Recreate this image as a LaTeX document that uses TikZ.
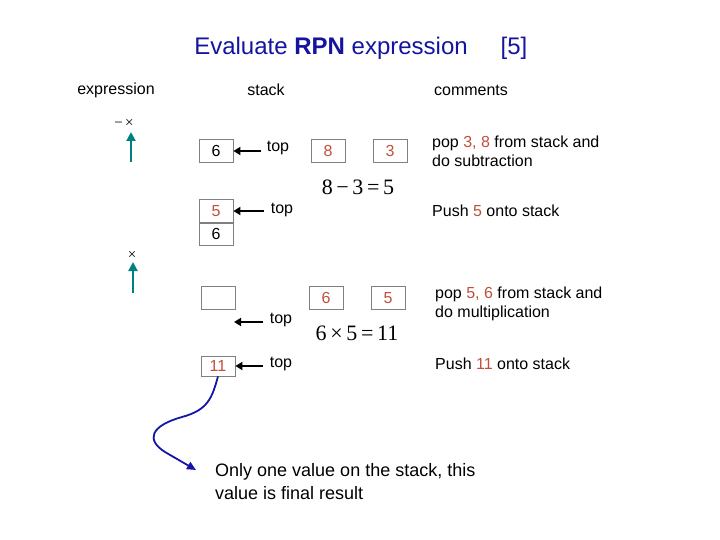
\documentclass[tikz,border=0pt]{standalone}
\usepackage{fontspec}
\setmainfont{Liberation Sans}
\newfontfamily\serifnum{Liberation Serif}
\usetikzlibrary{arrows.meta}
\definecolor{titleblue}{RGB}{20,20,160}
\definecolor{numred}{RGB}{192,80,60}
\definecolor{tealc}{RGB}{0,128,128}
\definecolor{curveblue}{RGB}{20,20,170}
\begin{document}
\begin{tikzpicture}[x=1pt,y=-1pt,
 cell/.style={draw=gray, line width=0.8pt, minimum width=34pt, minimum height=22.5pt, inner sep=0pt, font=\fontsize{16}{19}\selectfont},
 lbl/.style={inner sep=0pt, font=\fontsize{16}{19}\selectfont},
 cmt/.style={inner sep=0pt, anchor=west, align=left, font=\fontsize{16}{19}\selectfont},
 toparrow/.style={-{Triangle[length=7pt,width=8pt]}, line width=2pt},
 tealarrow/.style={-{Triangle[length=9pt,width=9pt]}, line width=2.2pt, draw=tealc, fill=tealc},
 eq/.style={inner sep=0pt, font=\serifnum\fontsize{22}{26}\selectfont}]
\useasboundingbox (0,0) rectangle (720,540);
% title
\node[inner sep=0pt, font=\fontsize{24}{28}\selectfont, text=titleblue] (title) at (331,48) {Evaluate \textbf{RPN} expression};
\node[inner sep=0pt, font=\fontsize{24}{28}\selectfont, text=titleblue] (num) at (514,48) {[5]};
% headers
\node[lbl] (hexpr) at (116,90) {expression};
\node[lbl] (hstack) at (266,90) {stack};
\node[lbl] (hcom) at (471,90) {comments};
% teal arrows
\coordinate (ta1s) at (131,162);
\coordinate (ta1e) at (131,132);
\draw[tealarrow] (ta1s) -- (ta1e);
\node[inner sep=0pt, font=\serifnum\fontsize{15}{18}\selectfont] (op1) at (124,123) {−\,×};
\coordinate (ta2s) at (133,293);
\coordinate (ta2e) at (133,262);
\draw[tealarrow] (ta2s) -- (ta2e);
\node[inner sep=0pt, font=\serifnum\fontsize{15}{18}\selectfont] (op2) at (132,255) {×};
% row 1
\node[cell] (b6a) at (216,151) {6};
\node[lbl] (top1) at (278,148) {top};
\coordinate (t1) at (261,151);
\draw[toparrow] (t1) -- (b6a.east);
\node[cell, text=numred] (b8) at (328,151) {8};
\node[cell, text=numred] (b3) at (390,151) {3};
\node[eq] (eq1) at (358,187) {8\,−\,3\,=\,5};
\node[cmt] (c1) at (432,151) {pop \textcolor{numred}{3, 8} from stack and\\do subtraction};
% row 2
\node[cell, text=numred] (b5) at (216,211) {5};
\node[cell, anchor=north] (b6b) at (b5.south) {6};
\node[lbl] (top2) at (282,210) {top};
\coordinate (t2) at (264,211);
\draw[toparrow] (t2) -- (b5.east);
\node[cmt] (c2) at (432,211) {Push \textcolor{numred}{5} onto stack};
% row 3
\node[cell] (be) at (218,298) {};
\node[cell, text=numred] (b6c) at (326,298) {6};
\node[cell, text=numred] (b5c) at (388,298) {5};
\node[lbl] (top3) at (281,320) {top};
\coordinate (t3) at (263,322);
\coordinate (t3e) at (234,322);
\draw[toparrow] (t3) -- (t3e);
\node[eq] (eq2) at (357,333) {6\,×\,5\,=\,11};
\node[cmt] (c3) at (435,304) {pop \textcolor{numred}{5, 6} from stack and\\do multiplication};
% row 4
\node[cell, minimum height=20pt, text=numred] (b11) at (218,366) {11};
\node[lbl] (top4) at (281,364) {top};
\coordinate (t4) at (263,366);
\draw[toparrow] (t4) -- (b11.east);
\node[cmt] (c4) at (435,364) {Push \textcolor{numred}{11} onto stack};
% final
\node[inner sep=0pt, anchor=west, align=left, font=\fontsize{18}{23}\selectfont] (fin) at (215,482) {Only one value on the stack, this\\value is final result};
\coordinate (cend) at (196,470);
\draw[curveblue, line width=1.8pt, -{Triangle[length=9pt,width=8pt]}]
  (b11.south) .. controls (212,398) and (208,410) .. (182,417)
  .. controls (150,426) and (146,440) .. (165,452)
  -- (cend);
\end{tikzpicture}
\end{document}
